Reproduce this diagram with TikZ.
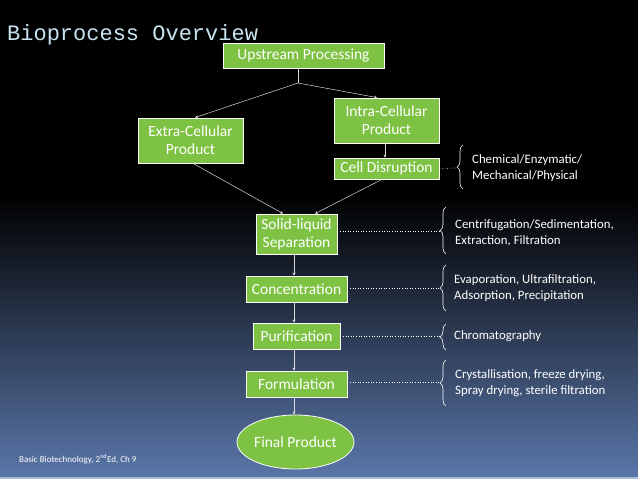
\documentclass[tikz,border=0pt]{standalone}
\usepackage{fontspec}
\setmainfont{Carlito}
\newfontfamily\titlefont{Liberation Mono}
\usetikzlibrary{decorations.pathreplacing,arrows.meta,shapes.geometric}
\definecolor{boxgreen}{RGB}{125,194,66}
\definecolor{titleblue}{RGB}{200,228,240}
\definecolor{bgblue}{RGB}{90,118,168}
\definecolor{stripblue}{RGB}{170,190,225}
\tikzset{
  stepbox/.style={draw=white, line width=0.8pt, fill=boxgreen, text=white, inner sep=0pt, align=center, font=\fontsize{15.5}{18}\selectfont},
  conn/.style={draw=white!85!black, line width=0.5pt, -{Stealth[length=3pt,width=3pt]}},
  plain/.style={draw=white!85!black, line width=0.5pt},
  dots/.style={draw=white, line width=0.6pt, dotted},
  bracestyle/.style={draw=white, line width=0.6pt, decorate, decoration={brace, amplitude=6pt}},
  note/.style={text=white, anchor=west, align=left, inner sep=0pt, font=\fontsize{12.8}{16}\selectfont},
}
\begin{document}
\begin{tikzpicture}[x=1pt,y=-1pt]
\useasboundingbox (0,0) rectangle (638,479);
\fill[black] (0,0) rectangle (638,479);
\shade[top color=black, bottom color=bgblue] (0,195) rectangle (638,477);
\fill[stripblue] (0,477) rectangle (638,479);

\node[anchor=west, text=titleblue, inner sep=0pt, font=\titlefont\fontsize{22}{24}\selectfont] (title) at (7,35) {Bioprocess Overview};

\node[stepbox, minimum width=161pt, minimum height=25pt] (up) at (303.5,55.5) {Upstream Processing};
\node[stepbox, minimum width=105pt, minimum height=45pt] (extra) at (190.5,140.5) {Extra-Cellular\\Product};
\node[stepbox, minimum width=105pt, minimum height=45pt] (intra) at (386.5,120.5) {Intra-Cellular\\Product};
\node[stepbox, minimum width=105pt, minimum height=21pt] (cell) at (386.5,168.5) {Cell Disruption};
\node[stepbox, minimum width=81pt, minimum height=40pt] (solid) at (296.5,234) {Solid-liquid\\Separation};
\node[stepbox, minimum width=101pt, minimum height=26pt] (conc) at (296.5,289) {Concentration};
\node[stepbox, minimum width=87pt, minimum height=26pt] (puri) at (296.5,336) {Purification};
\node[stepbox, minimum width=101pt, minimum height=26pt] (form) at (296.5,384) {Formulation};
\node[stepbox, ellipse, minimum width=117pt, minimum height=54pt] (final) at (295.5,442) {Final Product};

\coordinate (junc) at (298,83);
\draw[plain] (up.south -| junc) -- (junc);
\draw[conn] (junc) -- (extra.north -| 195,0);
\draw[conn] (junc) -- (intra.north -| 377,0);
\draw[conn] (intra.south -| 385,0) -- (cell.north -| 385,0);
\draw[conn] (extra.south -| 193,0) -- (solid.north -| 283,0);
\draw[conn] (cell.south -| 382,0) -- (solid.north -| 315,0);
\draw[conn] (solid.south -| 294,0) -- (conc.north -| 294,0);
\draw[conn] (conc.south -| 294,0) -- (puri.north -| 294,0);
\draw[conn] (puri.south -| 294,0) -- (form.north -| 294,0);
\draw[conn] (form.south -| 294,0) -- (final.north -| 294,0);

% braces and notes
\coordinate (b1) at (457,168);
\draw[dots] (cell.east) -- (b1);
\draw[bracestyle] (463,189) -- (463,145);
\node[note] (n1) at (472,168) {Chemical/Enzymatic/\\Mechanical/Physical};

\coordinate (b2) at (440,231);
\draw[dots] (solid.east |- b2) -- (b2);
\draw[bracestyle] (446,254) -- (446,207);
\node[note] (n2) at (455,233) {Centrifugation/Sedimentation,\\Extraction, Filtration};

\coordinate (b3) at (440,288);
\draw[dots] (conc.east |- b3) -- (b3);
\draw[bracestyle] (446,311) -- (446,265);
\node[note] (n3) at (454,288) {Evaporation, Ultrafiltration,\\Adsorption, Precipitation};

\coordinate (b4) at (440,336);
\draw[dots] (puri.east |- b4) -- (b4);
\draw[bracestyle] (446,350) -- (446,324);
\node[note] (n4) at (454,336) {Chromatography};

\coordinate (b5) at (440,382);
\draw[dots] (form.east |- b5) -- (b5);
\draw[bracestyle] (446,406) -- (446,360);
\node[note] (n5) at (455,383) {Crystallisation, freeze drying,\\Spray drying, sterile filtration};

\node[anchor=west, text=white, inner sep=0pt, font=\fontsize{9}{10}\selectfont] (foot) at (19,459) {Basic Biotechnology, 2\textsuperscript{nd}Ed, Ch 9};
\end{tikzpicture}
\end{document}
